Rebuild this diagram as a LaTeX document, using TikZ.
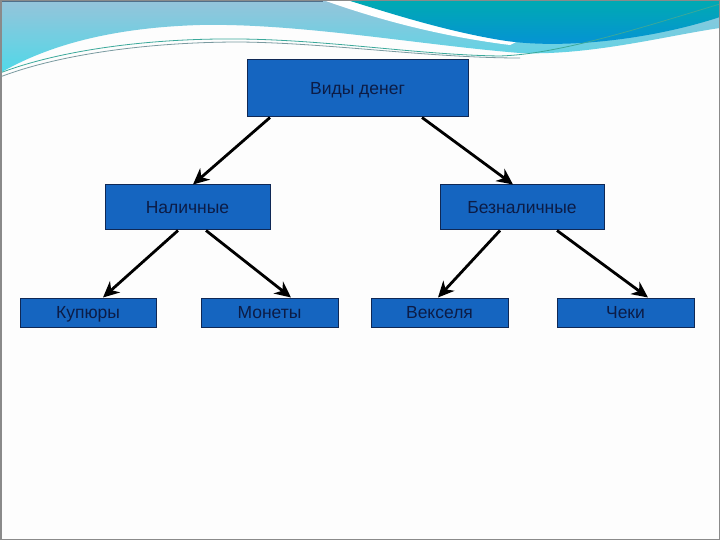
\documentclass[tikz,border=0pt]{standalone}
\usepackage{fontspec}
\setmainfont{Liberation Sans}
\usetikzlibrary{arrows.meta}
\definecolor{boxfill}{RGB}{21,101,192}
\definecolor{boxline}{RGB}{15,40,85}
\definecolor{boxtext}{RGB}{12,28,70}
\definecolor{bgwhite}{RGB}{253,253,253}
\definecolor{frame}{RGB}{138,138,138}
\definecolor{lighttop}{RGB}{150,196,218}
\definecolor{lightbot}{RGB}{80,216,232}
\definecolor{tealtop}{RGB}{0,170,178}
\definecolor{tealbot}{RGB}{6,144,216}
\definecolor{linea}{RGB}{58,168,154}
\definecolor{lineb}{RGB}{122,154,160}
\definecolor{steel}{RGB}{80,112,138}
\begin{document}
\begin{tikzpicture}[x=1pt,y=-1pt,
  box/.style={draw=boxline, line width=1pt, fill=boxfill, text=boxtext,
    font=\fontsize{17.5}{20}\selectfont, inner sep=0pt, anchor=center,
    text height=12.5pt, text depth=0pt},
  conn/.style={line width=2.8pt, -{Stealth[length=16pt,width=15pt,inset=5pt]}}
]
\useasboundingbox (0,0) rectangle (720,540);
\fill[bgwhite] (0,0) rectangle (720,540);
% light wave
\shade[top color=lighttop, bottom color=lightbot]
  (0,0) -- (0,73) .. controls (40,50) and (100,28) .. (200,25)
  .. controls (300,23) and (420,45) .. (520,53)
  .. controls (590,56) and (670,35) .. (720,28) -- (720,0) -- cycle;
% white stripe
\fill[white] (323,0) .. controls (365,15) and (430,35) .. (510,45) -- (520,40) -- (347,0) -- cycle;
% teal wave
\shade[top color=tealtop, bottom color=tealbot]
  (347,0) .. controls (380,10) and (440,30) .. (500,40)
  .. controls (560,50) and (650,40) .. (720,17) -- (720,0) -- cycle;
% thin lines
\draw[lineb, line width=0.8pt] (0,77) .. controls (60,54) and (150,42) .. (240,42)
  .. controls (330,43) and (430,58) .. (520,58);
\draw[linea, line width=0.8pt] (0,73) .. controls (60,50) and (150,38) .. (240,39)
  .. controls (330,40) and (420,55) .. (500,56)
  .. controls (560,54) and (640,28) .. (720,4);
% frame
\draw[steel, line width=2pt] (0,1) -- (323,1);
\draw[frame, line width=1.5pt] (0.75,0.75) rectangle (719.25,539.25);
% boxes
\node[box, minimum width=221pt, minimum height=57pt] (vd) at (357.5,88.5) {Виды денег};
\node[box, minimum width=165pt, minimum height=45pt] (nal) at (187.5,207.5) {Наличные};
\node[box, minimum width=164pt, minimum height=45pt] (bez) at (522,207.5) {Безналичные};
\node[box, minimum width=136pt, minimum height=29pt] (kup) at (88,312.5) {Купюры};
\node[box, minimum width=137pt, minimum height=29pt] (mon) at (269.5,312.5) {Монеты};
\node[box, minimum width=137pt, minimum height=29pt] (vek) at (439.5,312.5) {Векселя};
\node[box, minimum width=137pt, minimum height=29pt] (che) at (625.5,312.5) {Чеки};
% connectors
\draw[conn] ([xshift=-87.5pt]vd.south) -- ([xshift=5.5pt]nal.north);
\draw[conn] ([xshift=64.5pt]vd.south) -- ([xshift=-9pt]bez.north);
\draw[conn] ([xshift=-9.5pt]nal.south) -- ([xshift=15pt]kup.north);
\draw[conn] ([xshift=18.5pt]nal.south) -- ([xshift=21.5pt]mon.north);
\draw[conn] ([xshift=-22pt]bez.south) -- ([xshift=-1.5pt]vek.north);
\draw[conn] ([xshift=35pt]bez.south) -- ([xshift=22.5pt]che.north);
\end{tikzpicture}
\end{document}
